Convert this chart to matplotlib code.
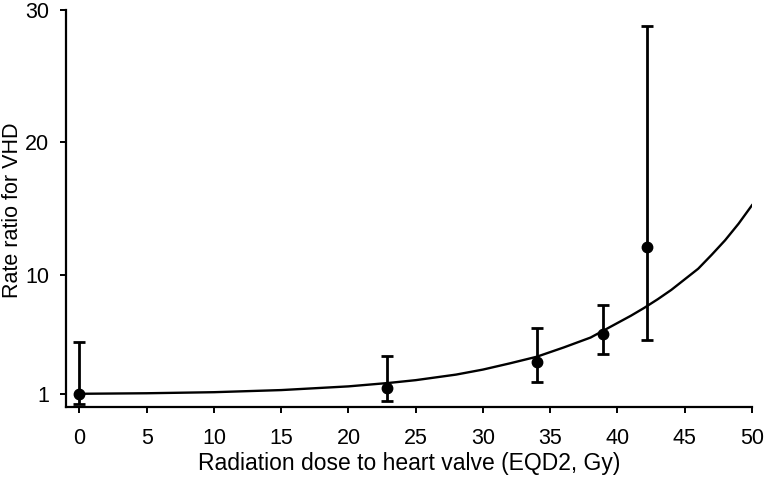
import matplotlib
matplotlib.use("Agg")
import matplotlib.pyplot as plt

plt.rcParams['font.family'] = ['Liberation Sans', 'DejaVu Sans']

# observed points (dose category means) with 95% CI
dose = [0, 22.9, 34.0, 38.9, 42.2]
rr = [1.0, 1.43, 3.4, 5.5, 12.1]
ci_low = [0.23, 0.45, 1.9, 4.0, 5.06]
ci_high = [4.9, 3.85, 5.96, 7.7, 28.8]

# fitted curve
fit_dose = [0, 5, 10, 15, 20, 23, 25, 28, 30, 32, 34, 36, 38, 39, 40, 41, 42, 43,
            44, 45, 46, 47, 48, 49, 50]
fit_rr = [1.0, 1.04, 1.12, 1.28, 1.56, 1.82, 2.03, 2.45, 2.83, 3.3, 3.8, 4.5, 5.25,
          5.8, 6.35, 6.9, 7.5, 8.15, 8.85, 9.65, 10.45, 11.5, 12.6, 13.85, 15.25]

xticks = [0, 5, 10, 15, 20, 25, 30, 35, 40, 45, 50]
yticks = [1, 10, 20, 30]

fig = plt.figure(figsize=(7.66, 4.78), dpi=100)
ax = fig.add_axes([0.0862, 0.1485, 0.8955, 0.8305])

ax.plot(fit_dose, fit_rr, color='black', lw=1.7, zorder=2)
yerr = [[r - lo for r, lo in zip(rr, ci_low)], [hi - r for r, hi in zip(rr, ci_high)]]
ax.errorbar(dose, rr, yerr=yerr, fmt='o', color='black', ms=7.5, elinewidth=2.0,
            capsize=4.5, capthick=2.0, zorder=3)

ax.set_xlim(-1, 50)
ax.set_ylim(0, 30)
ax.set_xticks(xticks)
ax.set_yticks(yticks)
ax.spines['top'].set_visible(False)
ax.spines['right'].set_visible(False)
for s in ['left', 'bottom']:
    ax.spines[s].set_linewidth(1.6)
ax.tick_params(direction='out', length=4.5, width=1.4, labelsize=15.5)
ax.tick_params(axis='x', pad=10.5)
ax.tick_params(axis='y', pad=7.5)

ax.set_xlabel("Radiation dose to heart valve (EQD2, Gy)", fontsize=16.5, labelpad=2)
ax.set_ylabel("Rate ratio for VHD", fontsize=15.5)
ax.yaxis.set_label_coords(-0.0627, 0.495)

fig.savefig("out.png", dpi=100)
